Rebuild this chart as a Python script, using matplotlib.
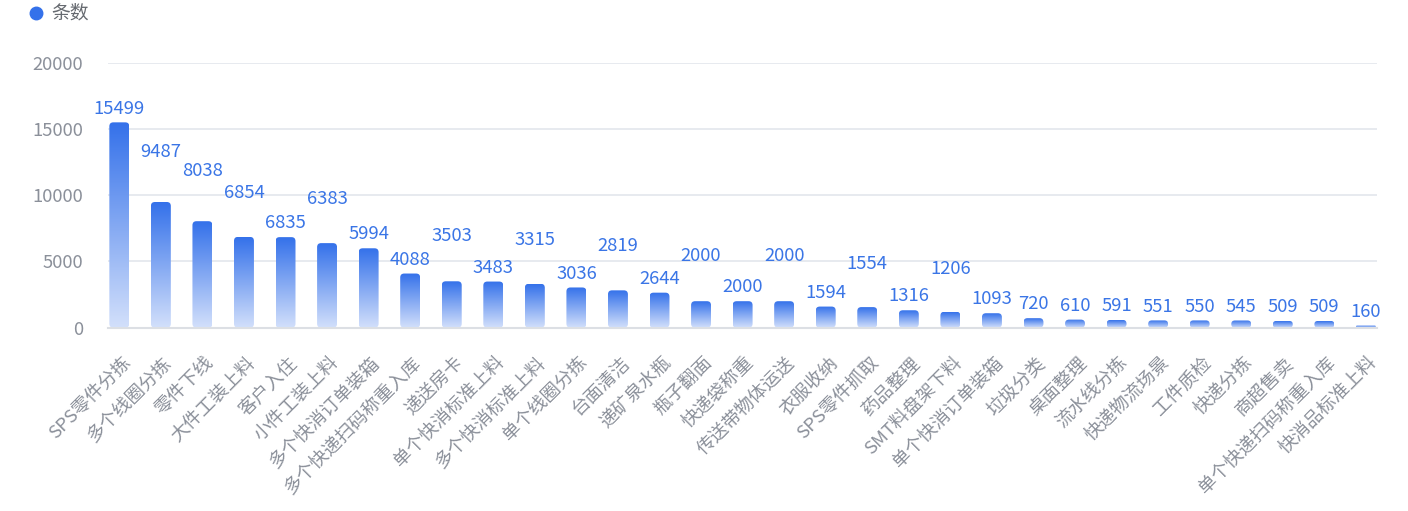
import matplotlib
matplotlib.use("Agg")
import matplotlib.pyplot as plt
import numpy as np
from matplotlib.patches import FancyBboxPatch
from matplotlib.lines import Line2D
from matplotlib.colors import LinearSegmentedColormap
import matplotlib.transforms as mtransforms

plt.rcParams['font.family'] = ['Noto Sans CJK SC', 'DejaVu Sans']

categories = ["SPS零件分拣", "多个线圈分拣", "零件下线", "大件工装上料", "客户入住", "小件工装上料",
              "多个快消订单装箱", "多个快递扫码称重入库", "递送房卡", "单个快消标准上料", "多个快消标准上料",
              "单个线圈分拣", "台面清洁", "递矿泉水瓶", "瓶子翻面", "快递袋称重", "传送带物体运送",
              "衣服收纳", "SPS零件抓取", "药品整理", "SMT料盘架下料", "单个快消订单装箱", "垃圾分类",
              "桌面整理", "流水线分拣", "快递物流场景", "工件质检", "快递分拣", "商超售卖",
              "单个快递扫码称重入库", "快消品标准上料"]
values = [15499, 9487, 8038, 6854, 6835, 6383, 5994, 4088, 3503, 3483, 3315, 3036, 2819, 2644,
          2000, 2000, 2000, 1594, 1554, 1316, 1206, 1093, 720, 610, 591, 551, 550, 545, 509, 509, 160]
y_ticks = [0, 5000, 10000, 15000, 20000]
series_name = "条数"

# extra upward shift (px) of value labels to avoid overlap (layout style)
label_lift_px = [0, 36, 36, 30, 0, 30, 0, 0, 31, 0, 30, 0, 31, 0, 31, 0, 31, 0, 29, 0, 29, 0,
                 0, 0, 0, 0, 0, 0, 0, 0, 0]

W, H, DPI = 1408, 511, 100
fig = plt.figure(figsize=(W / DPI, H / DPI), dpi=DPI)
fig.patch.set_facecolor('white')

ax_left, ax_right, ax_top, ax_bottom = 108.3, 1376.7, 62.7, 327.7
ax = fig.add_axes([ax_left / W, (H - ax_bottom) / H, (ax_right - ax_left) / W, (ax_bottom - ax_top) / H])

x = np.arange(len(categories))
bar_w = 0.48
bars = ax.bar(x, values, width=bar_w, color='none', edgecolor='none', zorder=2)

XL = (-0.265, 30.26)
ax.set_xlim(*XL)
ax.set_ylim(0, 20000)

# gradient fill with rounded corners
cmap = LinearSegmentedColormap.from_list('g', ['#d3e0fb', '#3471ea'])
grad = np.linspace(0, 1, 256).reshape(-1, 1)
px_per_x = (ax_right - ax_left) / (XL[1] - XL[0])
px_per_y = (ax_bottom - ax_top) / 20000
r_px = 4.0
for rect in bars:
    x0, y0 = rect.get_x(), rect.get_y()
    w, h = rect.get_width(), rect.get_height()
    h_px = h * px_per_y
    r = min(r_px, h_px / 2) / px_per_x
    aspect = px_per_x / px_per_y
    patch = FancyBboxPatch((x0, y0), w, h, boxstyle=f"round,pad=0,rounding_size={r}",
                           mutation_aspect=aspect, facecolor='none', edgecolor='none',
                           transform=ax.transData)
    ax.add_patch(patch)
    im = ax.imshow(grad, extent=(x0, x0 + w, y0, y0 + h), origin='lower', cmap=cmap,
                   aspect='auto', zorder=2, interpolation='bilinear')
    im.set_clip_path(patch)

ax.set_xlim(*XL)
ax.set_ylim(0, 20000)

# value labels
for rect, v, lift in zip(bars, values, label_lift_px):
    ax.annotate(f"{v}", (rect.get_x() + rect.get_width() / 2, rect.get_height()),
                xytext=(0, (8.8 + lift) * 0.72), textcoords='offset points',
                ha='center', va='baseline', color='#3a75e6', fontsize=13.3, zorder=3)

# grid and axes styling
ax.set_yticks(y_ticks)
ax.set_yticklabels([str(t) for t in y_ticks])
ax.grid(axis='y', color='#e3e6ec', linewidth=1.2, zorder=0)
ax.set_axisbelow(True)
for s in ['top', 'right', 'left']:
    ax.spines[s].set_visible(False)
ax.spines['bottom'].set_color('#dcdfe4')
ax.spines['bottom'].set_linewidth(1.5)
ax.tick_params(axis='y', length=0, pad=18, labelsize=13.3, labelcolor='#8b909a')
ax.tick_params(axis='x', length=0, pad=23.6, labelsize=13.3, labelcolor='#8b909a')

ax.set_xticks(x)
ax.set_xticklabels(categories, rotation=45, ha='right', va='center', rotation_mode='anchor')
offset = mtransforms.ScaledTranslation(9 / DPI, 0, fig.dpi_scale_trans)
for lab in ax.get_xticklabels():
    lab.set_transform(lab.get_transform() + offset)

# legend
fig.add_artist(Line2D([36 / W], [(H - 13) / H], marker='o', markersize=9,
                      color='#3471ea', linestyle='none', transform=fig.transFigure))
fig.text(51 / W, (H - 13) / H, series_name, ha='left', va='center', fontsize=13.5, color='#666a70')

fig.savefig('out.png', dpi=DPI, facecolor='white')
